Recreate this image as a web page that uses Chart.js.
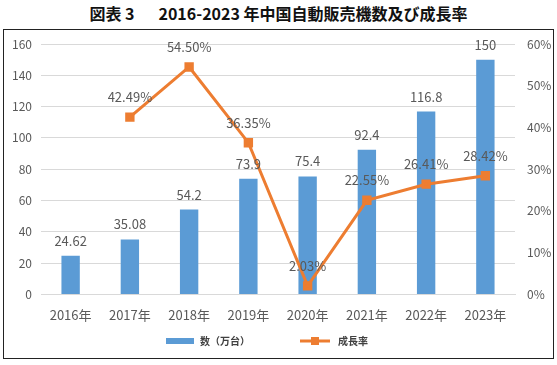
<!DOCTYPE html>
<html>
<head>
<meta charset="utf-8">
<script src="https://cdn.jsdelivr.net/npm/chart.js@4"></script>
<style>
    body { margin: 0; background: #fff; width: 557px; height: 365px; position: relative; font-family: "Noto Sans CJK JP", sans-serif; }
    #title { position: absolute; left: 0; top: 2px; width: 557px; text-align: center; font-size: 16px; font-weight: bold; color: #111; white-space: pre; line-height: 22px; }
    #box { position: absolute; left: 3px; top: 29px; width: 549px; height: 328px; border: 1px solid #222; }
    canvas { display: block; }
</style>
</head>
<body>
<div id="title">図表 3&emsp;&ensp;2016-2023 年中国自動販売機数及び成長率</div>
<div id="box"><canvas id="chart" width="549" height="328"></canvas></div>
<script>
// Chart data
const years = ['2016年', '2017年', '2018年', '2019年', '2020年', '2021年', '2022年', '2023年'];
const machines = [24.62, 35.08, 54.2, 73.9, 75.4, 92.4, 116.8, 150];
const growth = [null, 42.49, 54.50, 36.35, 2.03, 22.55, 26.41, 28.42];
const leftTicks = [0, 20, 40, 60, 80, 100, 120, 140, 160];
const rightTicks = [0, 10, 20, 30, 40, 50, 60];

const BLUE = '#5B9BD5';
const ORANGE = '#ED7D31';
const TEXT = '#595959';
const FONT = '"Noto Sans CJK SC", sans-serif';

// Value labels above bars and points
const valueLabels = {
    id: 'valueLabels',
    afterDatasetsDraw(chart) {
        const ctx = chart.ctx;
        ctx.save();
        ctx.fillStyle = TEXT;
        ctx.font = '13px ' + FONT;
        ctx.textAlign = 'center';
        ctx.textBaseline = 'middle';
        chart.data.datasets.forEach((ds, i) => {
            const meta = chart.getDatasetMeta(i);
            meta.data.forEach((el, j) => {
                const v = ds.data[j];
                if (v === null) return;
                if (ds.type === 'bar') {
                    ctx.fillText(String(v), el.x, el.y - 15);
                } else {
                    ctx.fillText(v.toFixed(2) + '%', el.x, el.y - 20);
                }
            });
        });
        ctx.restore();
    }
};

// Legend drawn under the axis
const bottomLegend = {
    id: 'bottomLegend',
    afterDraw(chart) {
        const ctx = chart.ctx;
        const y = 311;
        ctx.save();
        ctx.font = 'bold 10px ' + FONT;
        ctx.textBaseline = 'middle';
        ctx.textAlign = 'left';

        ctx.fillStyle = BLUE;
        ctx.fillRect(162, y - 3, 28, 6);
        ctx.fillStyle = '#404040';
        ctx.fillText(chart.data.datasets[1].label, 196, y);

        ctx.strokeStyle = ORANGE;
        ctx.lineWidth = 3;
        ctx.beginPath();
        ctx.moveTo(296, y);
        ctx.lineTo(326, y);
        ctx.stroke();
        ctx.fillStyle = ORANGE;
        ctx.fillRect(307, y - 4, 8, 8);
        ctx.fillStyle = '#404040';
        ctx.fillText(chart.data.datasets[0].label, 334, y);
        ctx.restore();
    }
};

// Keep the axes from reserving label room above the plot
function fixWidth(w) {
    return (s) => {
        s.width = w;
        s.paddingTop = 0;
        s.paddingBottom = 0;
    };
}

const ctx = document.getElementById('chart').getContext('2d');
const chart = new Chart(ctx, {
    data: {
        labels: years,
        datasets: [
            {
                type: 'line',
                label: '成長率',
                data: growth,
                yAxisID: 'y1',
                borderColor: ORANGE,
                backgroundColor: ORANGE,
                borderWidth: 3,
                pointStyle: 'rect',
                pointRadius: 4.5,
                pointHoverRadius: 4.5,
                tension: 0,
                order: 0
            },
            {
                type: 'bar',
                label: '数（万台）',
                data: machines,
                yAxisID: 'y',
                backgroundColor: BLUE,
                barPercentage: 0.31,
                categoryPercentage: 1,
                order: 1
            }
        ]
    },
    options: {
        responsive: false,
        animation: false,
        layout: { padding: { top: 14, bottom: 30, left: 0, right: 0 } },
        plugins: {
            tooltip: { enabled: false },
            legend: { display: false }
        },
        scales: {
            x: {
                grid: { display: false },
                border: { color: '#d9d9d9' },
                ticks: { color: TEXT, font: { family: FONT, size: 13 }, padding: 5 }
            },
            y: {
                position: 'left',
                min: 0,
                max: 160,
                afterBuildTicks: (s) => { s.ticks = leftTicks.map(v => ({ value: v })); },
                afterFit: fixWidth(37),
                grid: { color: '#d9d9d9', drawTicks: false },
                border: { display: false },
                ticks: { color: TEXT, font: { family: FONT, size: 12 }, padding: 9 }
            },
            y1: {
                position: 'right',
                min: 0,
                max: 60,
                afterBuildTicks: (s) => { s.ticks = rightTicks.map(v => ({ value: v })); },
                afterFit: fixWidth(38),
                grid: { display: false, drawTicks: false },
                border: { display: false },
                ticks: { color: TEXT, font: { family: FONT, size: 12 }, padding: 12, callback: (v) => v + '%' }
            }
        }
    },
    plugins: [valueLabels, bottomLegend]
});
</script>
</body>
</html>
